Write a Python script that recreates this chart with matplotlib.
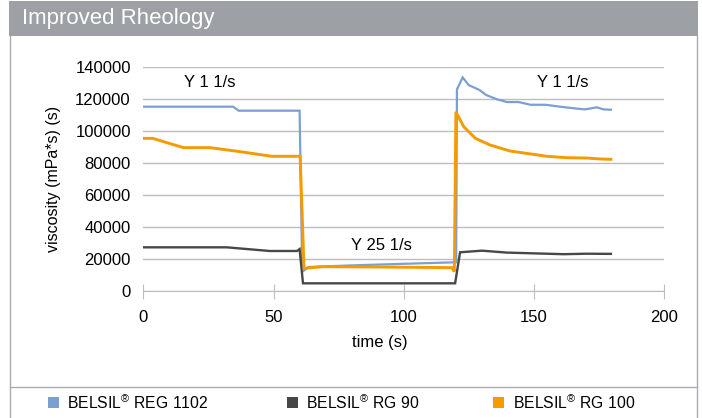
import matplotlib
matplotlib.use('Agg')
import matplotlib.pyplot as plt
from matplotlib.patches import Rectangle
from matplotlib.lines import Line2D

plt.rcParams['font.family'] = ['Liberation Sans', 'DejaVu Sans']
plt.rcParams['mathtext.fontset'] = 'custom'
plt.rcParams['mathtext.rm'] = 'Liberation Sans'

NAMES = ('BELSIL$^{\\mathrm{®}}$ REG 1102', 'BELSIL$^{\\mathrm{®}}$ RG 90', 'BELSIL$^{\\mathrm{®}}$ RG 100')
COLORS = ('#7c9fd1', '#474747', '#f59a00')

# REG 1102
T_REG1102 = [0, 34.5, 36.6, 60, 61, 63.5, 80, 100, 119, 120.1, 120.4, 122.6, 124.9,
             129.1, 131.6, 135.8, 139.6, 144.1, 148.6, 154.4, 160, 165.2, 169.6,
             174.1, 176.7, 179.5]
V_REG1102 = [115200, 115200, 112700, 112700, 12000, 15000, 16000, 17000, 17900, 17900,
             126000, 133500, 128700, 125600, 122500, 119800, 118100, 118100, 116400,
             116400, 115200, 114200, 113500, 114800, 113500, 113300]

# RG 90
T_RG90 = [0, 32, 48.6, 59, 60, 61.3, 119.7, 121.6, 130, 139.6, 161.4, 170, 179.5]
V_RG90 = [27300, 27300, 25000, 25000, 26200, 4800, 4800, 24200, 25200, 24000, 23000,
          23300, 23200]

# RG 100
T_RG100 = [0, 3.6, 15.4, 25.6, 37.1, 49.3, 60.2, 61.7, 69.2, 90, 118.4, 119.4, 120,
           123, 127.5, 133.1, 140.8, 147.2, 154.9, 162.6, 170.3, 175.4, 179.5]
V_RG100 = [95400, 95400, 89600, 89600, 87100, 84200, 84200, 14200, 15200, 15000, 14600,
           12100, 112000, 102700, 95400, 91250, 87500, 86000, 84200, 83300, 83100,
           82500, 82300]

SERIES = [(T_REG1102, V_REG1102), (T_RG90, V_RG90), (T_RG100, V_RG100)]
WIDTHS = (1.6, 1.7, 2.1)

X_TICKS = [0, 50, 100, 150, 200]
Y_TICKS = [0, 20000, 40000, 60000, 80000, 100000, 120000, 140000]

W, H = 702, 418
fig = plt.figure(figsize=(W / 100, H / 100), dpi=100)
ax = fig.add_axes([143.3 / W, 1 - 291 / H, 521 / W, 224 / H])

grid_c = '#bdbdbd'
frame_c = '#a9adb1'

for (t, v), c, lw in zip(SERIES, COLORS, WIDTHS):
    ax.plot(t, v, color=c, lw=lw, solid_joinstyle='miter', zorder=3)

ax.set_xlim(0, 200)
ax.set_ylim(0, 140000)
ax.set_xticks(X_TICKS)
ax.set_yticks(Y_TICKS)
ax.yaxis.grid(True, color=grid_c, lw=1)
ax.set_axisbelow(True)
for s in ('top', 'right', 'left'):
    ax.spines[s].set_visible(False)
ax.spines['bottom'].set_color(grid_c)
ax.tick_params(axis='y', length=0, pad=9, labelsize=12)
ax.tick_params(axis='x', direction='inout', length=10.8, color=grid_c, pad=8, labelsize=12)

ax.set_ylabel('viscosity (mPa*s) (s)', fontsize=11.5)
ax.yaxis.set_label_coords(-0.158, 0.5)
ax.set_xlabel('time (s)', fontsize=12)
ax.xaxis.set_label_coords(0.454, -0.228)
ax.xaxis.label.set_va('center')

ax.text(25.7, 130600, 'Y 1 1/s', fontsize=12, ha='center', va='center')
ax.text(161.2, 130600, 'Y 1 1/s', fontsize=12, ha='center', va='center')
ax.text(91.6, 28750, 'Y 25 1/s', fontsize=12, ha='center', va='center')

# header and frame
fig.add_artist(Rectangle((9 / W, 1 - 36 / H), 689 / W, 35 / H, transform=fig.transFigure,
                         facecolor='#9da1a6', edgecolor='none'))
fig.text(22 / W, 1 - 18.5 / H, 'Improved Rheology', color='white', fontsize=16,
         ha='left', va='center')
for x in (10, 697):
    fig.add_artist(Line2D([x / W, x / W], [0, 1 - 36 / H], transform=fig.transFigure,
                          color=frame_c, lw=1))
fig.add_artist(Line2D([10 / W, 697 / W], [1 - 387 / H, 1 - 387 / H],
                      transform=fig.transFigure, color=frame_c, lw=1))

# legend
LEG_X = (47.5, 287, 493.5)
for x, name, c in zip(LEG_X, NAMES, COLORS):
    fig.add_artist(Rectangle((x / W, 1 - 408 / H), 11 / W, 11 / H, transform=fig.transFigure,
                             facecolor=c, edgecolor='none'))
    fig.text((x + 19.5) / W, 1 - 403 / H, name, fontsize=11.3, ha='left', va='center')

fig.savefig('out.png', dpi=100)
